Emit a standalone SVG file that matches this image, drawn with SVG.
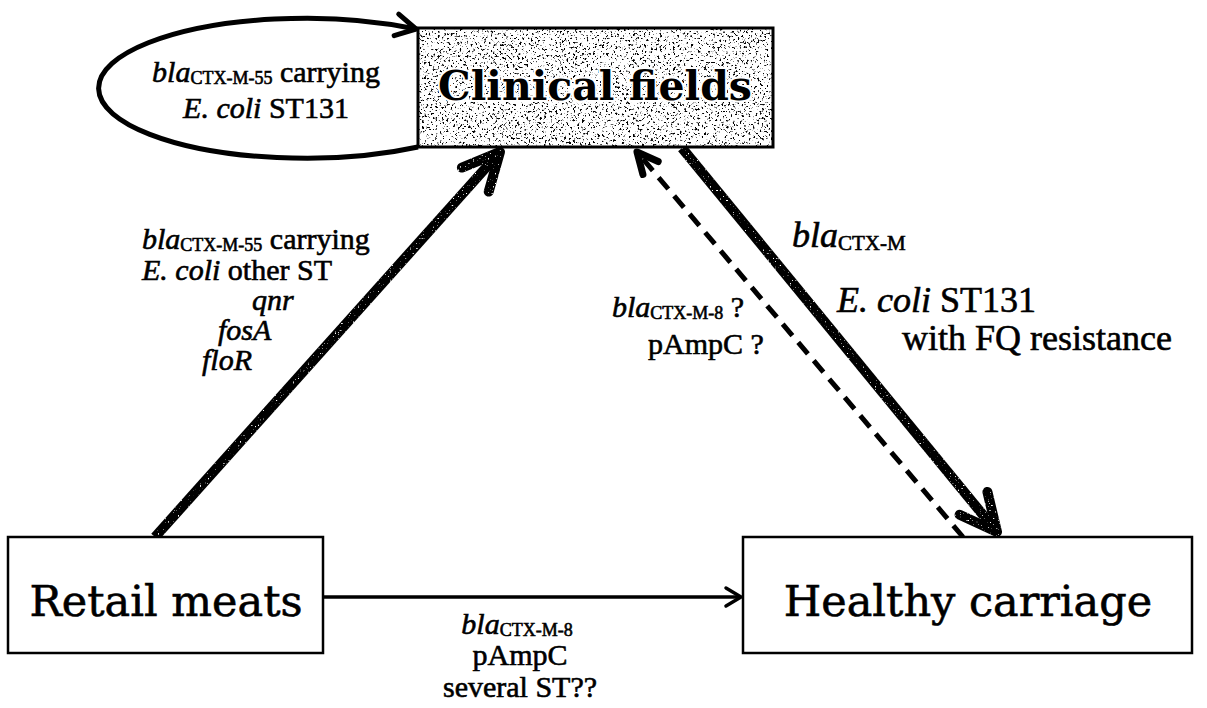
<svg xmlns="http://www.w3.org/2000/svg" width="1207" height="708" viewBox="0 0 1207 708">
<style>
.box{fill:#fff;stroke:#000;stroke-width:2.5}
.border{fill:none;stroke:#000;stroke-width:3}
.title{font-family:"DejaVu Serif","Liberation Serif",serif;font-size:43px;fill:#000;text-anchor:middle;stroke:#000;stroke-width:0.6px}
.ctitle{font-family:"DejaVu Serif","Liberation Serif",serif;font-size:41px;font-weight:bold;fill:#000;text-anchor:middle;stroke:#fff;stroke-width:4px;paint-order:stroke;stroke-linejoin:round}
.lbl{font-family:"Liberation Serif","Times New Roman",serif;font-size:30px;fill:#000;stroke:#000;stroke-width:0.6px}
.big{font-size:36px}
.it{font-style:italic}
.sub{font-size:18px}
.bsub{font-size:21px}
.mid{text-anchor:middle}
.thick{fill:none;stroke:#000;stroke-width:10}
.loop{fill:none;stroke:#000;stroke-width:5}
.dash{fill:none;stroke:#000;stroke-width:5;stroke-dasharray:15 9}
.thin{fill:none;stroke:#000;stroke-width:3.5}
</style>
<defs>
<filter id="stipple" x="0" y="0" width="1" height="1" color-interpolation-filters="sRGB">
<feTurbulence type="fractalNoise" baseFrequency="0.45" numOctaves="2" seed="7" result="noise"/>
<feColorMatrix in="noise" type="matrix" values="0 0 0 0 0 0 0 0 0 0 0 0 0 0 0 10 0 0 0 -5.9" result="dots"/>
<feComposite in="dots" in2="SourceAlpha" operator="in" result="clipped"/>
<feMerge><feMergeNode in="SourceGraphic"/><feMergeNode in="clipped"/></feMerge>
</filter>
<filter id="speck" filterUnits="userSpaceOnUse" x="0" y="0" width="1207" height="708" color-interpolation-filters="sRGB">
<feTurbulence type="fractalNoise" baseFrequency="0.6" numOctaves="1" seed="3" result="noise"/>
<feColorMatrix in="noise" type="matrix" values="0 0 0 0 1 0 0 0 0 1 0 0 0 0 1 10 0 0 0 -6.6" result="dots"/>
<feComposite in="dots" in2="SourceAlpha" operator="in" result="clipped"/>
<feMerge><feMergeNode in="SourceGraphic"/><feMergeNode in="clipped"/></feMerge>
</filter>
<marker id="hThick" markerUnits="userSpaceOnUse" viewBox="-50 -30 60 60" markerWidth="60" markerHeight="60" refX="0" refY="0" orient="auto" overflow="visible">
<path d="M-37,-18 L0,0 L-37,18" fill="none" stroke="#000" stroke-width="10" stroke-linecap="round" stroke-linejoin="round"/>
</marker>
<marker id="hDash" markerUnits="userSpaceOnUse" viewBox="-30 -20 40 40" markerWidth="40" markerHeight="40" refX="0" refY="0" orient="auto" overflow="visible">
<path d="M-21,-10 L0,0 L-21,10" fill="none" stroke="#000" stroke-width="7" stroke-linecap="round" stroke-linejoin="round" stroke-dasharray="none"/>
</marker>
<marker id="hLoop" markerUnits="userSpaceOnUse" viewBox="-30 -20 40 40" markerWidth="40" markerHeight="40" refX="0" refY="0" orient="auto" overflow="visible">
<path d="M-20,-11 L0,0 L-20,11" fill="none" stroke="#000" stroke-width="5" stroke-linecap="round" stroke-linejoin="round"/>
</marker>
<marker id="hThin" markerUnits="userSpaceOnUse" viewBox="-20 -15 30 30" markerWidth="30" markerHeight="30" refX="0" refY="0" orient="auto" overflow="visible">
<path d="M-15,-9 L0,0 L-15,9" fill="none" stroke="#000" stroke-width="3.5" stroke-linecap="round" stroke-linejoin="round"/>
</marker>
</defs>

<g id="connectors">
<path class="loop" d="M418,147 A207,70 0 1 1 416,29" marker-end="url(#hLoop)"/>
<g filter="url(#speck)">
<path class="thick" d="M155,537 L500,152" marker-end="url(#hThick)"/>
<path class="thick" d="M682,148 L997,532" marker-end="url(#hThick)"/>
</g>
<path class="dash" d="M963,537 L637,152" marker-end="url(#hDash)"/>
<path class="thin" d="M323,597 L741,597" marker-end="url(#hThin)"/>
</g>

<g id="clinical-fields">
<rect x="418" y="28" width="355" height="119" fill="#fff" filter="url(#stipple)"/>
<rect class="border" x="418" y="28" width="355" height="119"/>
<text class="ctitle" x="595" y="100">Clinical fields</text>
</g>

<g id="retail-meats">
<rect class="box" x="8" y="537" width="315" height="116"/>
<text class="title" x="166" y="616">Retail meats</text>
</g>

<g id="healthy-carriage">
<rect class="box" x="743" y="537" width="449" height="116"/>
<text class="title" x="968" y="616">Healthy carriage</text>
</g>

<g id="loop-label">
<text class="lbl mid" x="266" y="82"><tspan class="it">bla</tspan><tspan class="sub" dy="2">CTX-M-55</tspan><tspan dy="-2"> carrying</tspan></text>
<text class="lbl mid" x="266" y="118"><tspan class="it">E. coli</tspan> ST131</text>
</g>

<g id="meat-clinical-label">
<text class="lbl" x="142" y="249"><tspan class="it">bla</tspan><tspan class="sub" dy="2">CTX-M-55</tspan><tspan dy="-2"> carrying</tspan></text>
<text class="lbl" x="142" y="280"><tspan class="it">E. coli</tspan> other ST</text>
<text class="lbl it" x="252" y="310">qnr</text>
<text class="lbl it" x="218" y="340">fosA</text>
<text class="lbl it" x="202" y="370">floR</text>
</g>

<g id="clinical-healthy-label">
<text class="lbl big" x="792" y="247"><tspan class="it">bla</tspan><tspan class="bsub" dy="3">CTX-M</tspan></text>
<text class="lbl big" x="837" y="312"><tspan class="it">E. coli</tspan> ST131</text>
<text class="lbl big" x="902" y="350">with FQ resistance</text>
</g>

<g id="healthy-clinical-label">
<text class="lbl" x="612" y="317"><tspan class="it">bla</tspan><tspan class="sub" dy="2">CTX-M-8</tspan><tspan dy="-2"> ?</tspan></text>
<text class="lbl" x="648" y="354">pAmpC ?</text>
</g>

<g id="meat-healthy-label">
<text class="lbl mid" x="517" y="634"><tspan class="it">bla</tspan><tspan class="sub" dy="2">CTX-M-8</tspan></text>
<text class="lbl mid" x="520" y="665">pAmpC</text>
<text class="lbl mid" x="520" y="697">several ST??</text>
</g>
</svg>
